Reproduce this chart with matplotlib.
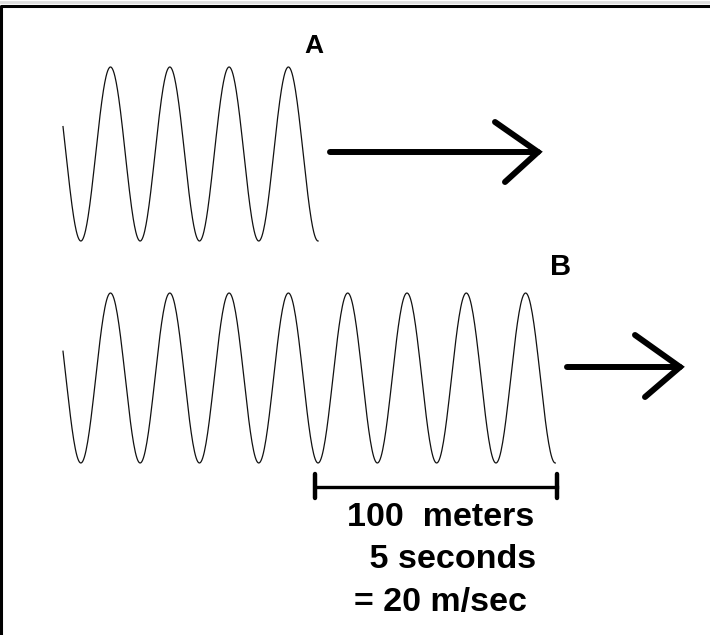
# Wave speed diagram: two wave trains A and B, speed = distance / time
import numpy as np
import matplotlib
matplotlib.use("Agg")
import matplotlib.pyplot as plt

# Data
wave_names = ["A", "B"]
wave_crests = [4, 8]          # number of crests in each train
distance_m = 100              # distance covered, metres
time_s = 5                    # time taken, seconds
bar_waves = 4                 # wavelengths spanned by the scale bar

# Layout (pixel coordinates of the 710x635 canvas)
W, H = 710, 635
wavelength = 59.3
start_x = 63
first_peak_x = 110.5
centre_y = [154, 378]
amplitude = [87, 85]
label_xy = [(314, 46), (561, 267)]
label_size = [19, 21]
arrow_y = [152, 367]
arrow_x = [(330, 538), (567, 680)]
head = [((495, 122), (505, 182)), ((635, 335), (645, 397))]

fig = plt.figure(figsize=(W / 100, H / 100), dpi=100)
ax = fig.add_axes([0, 0, 1, 1])
ax.set_xlim(0, W)
ax.set_ylim(H, 0)
ax.axis("off")

# frame: only top and left edges
ax.plot([1, 1, W], [H, 6, 6], color="black", lw=2.2, solid_capstyle="butt")
ax.plot([0, W], [2, 2], color="#dddddd", lw=2)

for i, name in enumerate(wave_names):
    end_x = first_peak_x + (wave_crests[i] - 0.5) * wavelength
    x = np.linspace(start_x, end_x, 600)
    y = centre_y[i] - amplitude[i] * np.cos(2 * np.pi * (x - first_peak_x) / wavelength)
    ax.plot(x, y, color="#111111", lw=0.9)

    lx, ly = label_xy[i]
    ax.text(lx, ly, name, fontsize=label_size[i], fontweight="bold",
            family="Liberation Sans", ha="center", va="center")

    x0, x1 = arrow_x[i]
    ay = arrow_y[i]
    ax.plot([x0, x1], [ay, ay], color="black", lw=4.3, solid_capstyle="round")
    (ux, uy), (bx, by) = head[i]
    ax.plot([ux, x1, bx], [uy, ay, by], color="black", lw=4.3,
            solid_capstyle="round", solid_joinstyle="miter")

# scale bar under the last wavelengths of B
bar_end = first_peak_x + (wave_crests[1] - 0.5) * wavelength
bar_start = bar_end - bar_waves * wavelength
bar_y = 487
ax.plot([bar_start - 3, bar_end + 2], [bar_y, bar_y], color="black", lw=2.4)
for bx in (bar_start - 3, bar_end + 2):
    ax.plot([bx, bx], [bar_y - 13, bar_y + 11], color="black", lw=3.2,
            solid_capstyle="round")

lines = [f"{distance_m}  meters", f" {time_s} seconds", f"= {distance_m // time_s} m/sec"]
line_xy = [(441, 517), (448, 559), (441, 602)]
for txt, (tx, ty) in zip(lines, line_xy):
    ax.text(tx, ty, txt, fontsize=24.5, fontweight="bold", family="Liberation Sans",
            ha="center", va="center")

fig.savefig("out.png", dpi=100, facecolor="white")
